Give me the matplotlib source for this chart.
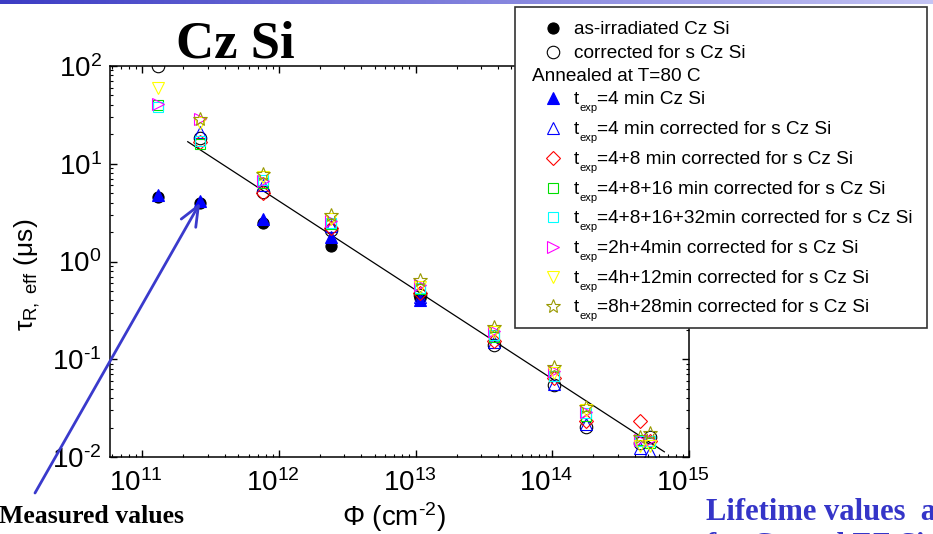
import numpy as np
import matplotlib
matplotlib.use("Agg")
import matplotlib.pyplot as plt
import matplotlib.transforms as mtransforms
from matplotlib.lines import Line2D
from matplotlib.patches import Rectangle
from matplotlib.colors import LinearSegmentedColormap
from matplotlib.ticker import LogLocator, NullFormatter

plt.rcParams.update({
    "font.family": ["Liberation Sans", "DejaVu Sans"],
    "mathtext.fontset": "custom",
    "mathtext.rm": "Liberation Sans",
    "mathtext.it": "Liberation Sans",
    "mathtext.bf": "Liberation Sans:bold",
    "mathtext.default": "regular",
})

nan = np.nan

# Fluence (cm^-2) of the irradiated samples
phi = [1.3e11, 2.65e11, 7.6e11, 2.4e12, 1.07e13, 3.75e13, 1.02e14, 1.75e14, 4.4e14, 5.2e14]

# Effective recombination lifetime (us)
tau_as_irr      = [4.6, 4.0, 2.5, 1.45, 0.42, nan, nan, nan, nan, nan]
tau_corr        = [100, 18.2, 5.2, 2.1, 0.45, 0.14, 0.0546, 0.0204, 0.014, 0.016]
tau_4min        = [4.8, 4.15, 2.7, 1.8, 0.40, nan, nan, nan, nan, nan]
tau_4min_corr   = [nan, 21, 6.0, 2.3, 0.43, 0.15, 0.056, 0.022, 0.0125, 0.0113]
tau_12min_corr  = [nan, 16.5, 5.0, 2.2, 0.48, 0.152, 0.064, 0.0236, 0.0235, 0.0145]
tau_28min_corr  = [40, 16, 6.3, 2.4, 0.52, 0.17, 0.067, 0.026, 0.015, 0.014]
tau_60min_corr  = [38.5, 17.2, 6.8, 2.5, 0.53, 0.175, 0.068, 0.028, 0.0145, 0.0145]
tau_2h4_corr    = [41, 29, 6.6, 2.6, 0.57, 0.195, 0.075, 0.029, 0.015, 0.015]
tau_4h12_corr   = [60, 26, 7.4, 2.75, 0.55, 0.19, 0.072, 0.030, 0.013, 0.013]
tau_8h28_corr   = [nan, 28.5, 7.9, 3.0, 0.65, 0.215, 0.084, 0.0327, 0.016, 0.0176]

# Power-law fit, end points
fit_phi = [2.15e11, 6.6e14]
fit_tau = [16.8, 0.0113]

x_ticks = [1e11, 1e12, 1e13, 1e14, 1e15]
x_tick_labels = [r"$10^{11}$", r"$10^{12}$", r"$10^{13}$", r"$10^{14}$", r"$10^{15}$"]
y_ticks = [1e-2, 1e-1, 1e0, 1e1, 1e2]
y_tick_labels = [r"$10^{\text{-}2}$", r"$10^{\text{-}1}$", r"$10^{0}$", r"$10^{1}$", r"$10^{2}$"]

legend_head = ["as-irradiated Cz Si", "corrected for s Cz Si"]
anneal_title = "Annealed at T=80 C"
anneal_labels = [
    "=4 min Cz Si",
    "=4 min corrected for s Cz Si",
    "=4+8 min corrected for s Cz Si",
    "=4+8+16 min corrected for s Cz Si",
    "=4+8+16+32min corrected for s Cz Si",
    "=2h+4min corrected for s Cz Si",
    "=4h+12min corrected for s Cz Si",
    "=8h+28min corrected for s Cz Si",
]

series = [tau_as_irr, tau_corr, tau_4min, tau_4min_corr, tau_12min_corr,
          tau_28min_corr, tau_60min_corr, tau_2h4_corr, tau_4h12_corr, tau_8h28_corr]

styles = [
    dict(marker="o", ms=8, mfc="black", mec="black", mew=0.8),
    dict(marker="o", ms=9, mfc="none", mec="black", mew=0.8),
    dict(marker="^", ms=9, mfc="blue", mec="blue", mew=0.8),
    dict(marker="^", ms=9, mfc="none", mec="blue", mew=0.8),
    dict(marker="D", ms=7.5, mfc="none", mec="red", mew=0.8),
    dict(marker="s", ms=7, mfc="none", mec="#00e000", mew=0.8),
    dict(marker="s", ms=7, mfc="none", mec="#00ffff", mew=0.8),
    dict(marker=">", ms=9, mfc="none", mec="#ff00ff", mew=0.8),
    dict(marker="v", ms=9, mfc="none", mec="#ffff00", mew=0.8),
    dict(marker="*", ms=10, mfc="none", mec="#999900", mew=0.8),
]

W, H, DPI = 933, 534, 100
fig = plt.figure(figsize=(W / DPI, H / DPI), dpi=DPI, facecolor="white")


def fx(x):
    return x / W


def fy(y):
    return 1 - y / H


# slide header stripe
bar = fig.add_axes([0, fy(4), 1, 4 / H])
grad_cmap = LinearSegmentedColormap.from_list("hdr", ["#3c3cc4", "#8080dc", "#c4c4f4"])
bar.imshow(np.linspace(0, 1, 256)[None, :], aspect="auto", cmap=grad_cmap)
bar.axis("off")

# main axes
ax = fig.add_axes([fx(110), fy(457), 579 / W, 391 / H])
ax.set_xscale("log")
ax.set_yscale("log")
ax.set_xlim(5.8e10, 1e15)
ax.set_ylim(1e-2, 1e2)

for tau, st in zip(series, styles):
    ax.plot(phi, tau, linestyle="none", **st)

ax.plot(fit_phi, fit_tau, color="black", lw=0.9, zorder=1.5)

ax.set_xticks(x_ticks)
ax.set_xticklabels(x_tick_labels)
ax.set_yticks(y_ticks)
ax.set_yticklabels(y_tick_labels)
ax.xaxis.set_minor_locator(LogLocator(base=10, subs=np.arange(2, 10), numticks=30))
ax.yaxis.set_minor_locator(LogLocator(base=10, subs=np.arange(2, 10), numticks=30))
ax.xaxis.set_minor_formatter(NullFormatter())
ax.yaxis.set_minor_formatter(NullFormatter())
ax.tick_params(which="both", direction="in", top=True, right=True, colors="black")
ax.tick_params(which="major", length=5, width=1.0, labelsize=20)
ax.tick_params(which="minor", length=2.5, width=0.8)
ax.tick_params(axis="x", pad=9)
ax.tick_params(axis="y", pad=6)
for sp in ax.spines.values():
    sp.set_linewidth(1.1)

shift = mtransforms.ScaledTranslation(-6 / DPI, 0, fig.dpi_scale_trans)
for lab in ax.get_xticklabels():
    lab.set_transform(lab.get_transform() + shift)

ax.set_xlabel(r"Φ (cm$^{\text{-}2}$)", fontsize=20)
ax.xaxis.label.set_verticalalignment("baseline")
ax.xaxis.set_label_coords(0.49, -0.176)
ax.set_ylabel(r"$\tau_{R,\ eff}$ (μs)", fontsize=19)
ax.yaxis.set_label_coords(-0.117, 0.465)

# arrow to the measured value
ax.annotate("", xy=(phi[1], tau_as_irr[1]), xycoords="data",
            xytext=(fx(35), fy(493)), textcoords="figure fraction",
            arrowprops=dict(arrowstyle="->,head_length=1.2,head_width=0.5",
                            color="#3a3acc", lw=2, shrinkA=0, shrinkB=0,
                            mutation_scale=12),
            annotation_clip=False)

fig.text(fx(-1), fy(523), "Measured values", ha="left", va="baseline",
         family="Liberation Serif", weight="bold", fontsize=18.5, color="black")

fig.text(fx(235), fy(57), "Cz Si", ha="center", va="baseline",
         family="Liberation Serif", weight="bold", fontsize=38, color="black")

fig.text(fx(706), fy(520), "Lifetime values  a", ha="left", va="baseline",
         family="Liberation Serif", weight="bold", fontsize=22, color="#3535c8")
fig.text(fx(706), fy(554), "for Cz and FZ Si", ha="left", va="baseline",
         family="Liberation Serif", weight="bold", fontsize=22, color="#3535c8")

# legend box
fig.add_artist(Rectangle((fx(515), fy(328)), 412 / W, 321 / H,
                         transform=fig.transFigure, facecolor="white",
                         edgecolor="#333333", lw=1.2, zorder=5))

mk_x = 552.7
txt_x = 574
leg_fs = 13.7

head_rows = [28, 52]
for yrow, label, st in zip(head_rows, legend_head, styles[:2]):
    fig.add_artist(Line2D([fx(mk_x)], [fy(yrow)], transform=fig.transFigure,
                          linestyle="none", zorder=6, **st))
    fig.text(fx(txt_x), fy(yrow + 5.5), label, ha="left", va="baseline",
             fontsize=leg_fs, zorder=6)

fig.text(fx(531.5), fy(81), anneal_title, ha="left", va="baseline",
         fontsize=leg_fs, zorder=6)

anneal_rows = [98, 128, 158, 188, 217, 247, 277, 306]
for yrow, label, st in zip(anneal_rows, anneal_labels, styles[2:]):
    fig.add_artist(Line2D([fx(mk_x)], [fy(yrow)], transform=fig.transFigure,
                          linestyle="none", zorder=6, **st))
    base = yrow + 6.3
    fig.text(fx(txt_x), fy(base), "t", ha="left", va="baseline",
             fontsize=leg_fs, zorder=6)
    fig.text(fx(579), fy(base + 7), "exp", ha="left", va="baseline",
             fontsize=8, zorder=6)
    fig.text(fx(597), fy(base), label, ha="left", va="baseline",
             fontsize=leg_fs, zorder=6)

fig.savefig("out.png", dpi=DPI, facecolor="white")
